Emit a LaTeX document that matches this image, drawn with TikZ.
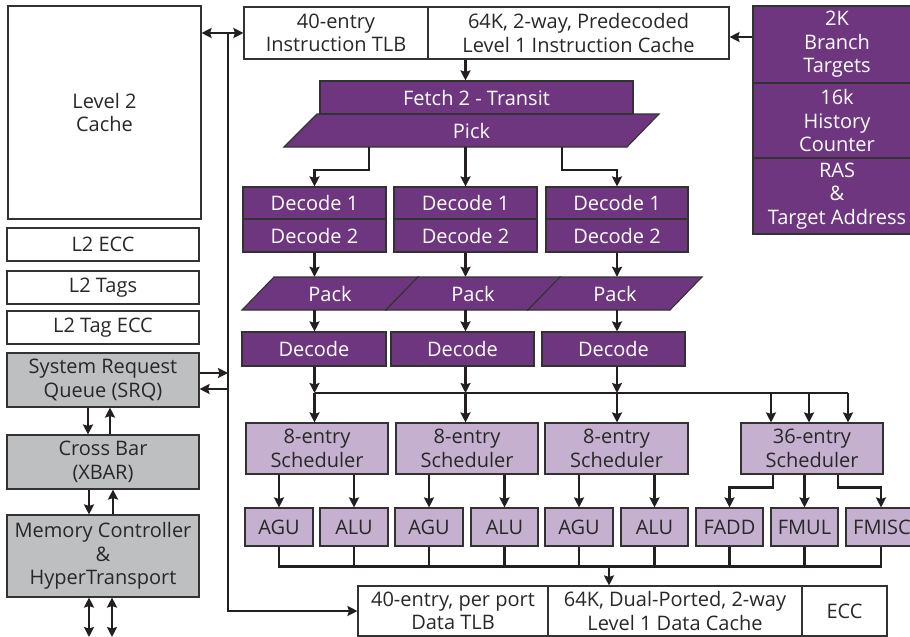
\documentclass[tikz,border=0pt]{standalone}
\usepackage{fontspec}
\setmainfont{Open Sans}
\usetikzlibrary{arrows.meta}
\definecolor{dpur}{RGB}{111,54,128}
\definecolor{lpur}{RGB}{197,176,208}
\definecolor{gbox}{RGB}{190,191,193}
\definecolor{lnc}{RGB}{35,31,32}
\definecolor{bord}{RGB}{50,50,50}
\definecolor{txt}{RGB}{40,40,40}
\begin{document}
\begin{tikzpicture}[x=1pt,y=-1pt,
  bx/.style={draw=bord,line width=1.1pt,inner sep=0pt,align=center,text=txt,
    font=\fontsize{20}{23.5}\selectfont},
  wbox/.style={bx,fill=white},
  gbx/.style={bx,fill=gbox},
  dbox/.style={bx,fill=dpur,text=white},
  lbox/.style={bx,fill=lpur},
  ttext/.style={inner sep=0pt,align=center,text=white,font=\fontsize{20}{23.5}\selectfont},
  ln/.style={draw=lnc,line width=2.2pt},
  arr/.style={ln,-{Stealth[length=10pt,width=10pt,inset=1.5pt]}},
  arrb/.style={ln,{Stealth[length=10pt,width=10pt,inset=1.5pt]}-{Stealth[length=10pt,width=10pt,inset=1.5pt]}}
]
\useasboundingbox (0,0) rectangle (910,637);
\fill[white] (0,0) rectangle (910,637);

% left column
\node[wbox,minimum width=193pt,minimum height=213pt] (l2) at (104.5,112.5) {Level 2\\Cache};
\node[wbox,minimum width=192pt,minimum height=33pt] (l2ecc) at (103,244.5) {L2 ECC};
\node[wbox,minimum width=192pt,minimum height=33pt] (l2tags) at (103,287.5) {L2 Tags};
\node[wbox,minimum width=192pt,minimum height=33pt] (l2tagecc) at (103,327.5) {L2 Tag ECC};
\node[gbx,minimum width=192pt,minimum height=54pt] (srq) at (103,380) {System Request\\Queue (SRQ)};
\node[gbx,minimum width=192pt,minimum height=54pt] (xbar) at (103,462) {Cross Bar\\(XBAR)};
\node[gbx,minimum width=192pt,minimum height=82pt] (mc) at (103,556) {Memory Controller\\\&\\HyperTransport};

% top
\node[wbox,minimum width=184pt,minimum height=52pt] (itlb) at (336,33) {40-entry\\Instruction TLB};
\node[wbox,minimum width=301pt,minimum height=52pt] (icache) at (578.5,33) {64K, 2-way, Predecoded\\Level 1 Instruction Cache};
\node[dbox,minimum width=168pt,minimum height=77pt] (bt) at (837,44.5) {2K\\Branch\\Targets};
\node[dbox,minimum width=168pt,minimum height=75pt] (hc) at (837,120.5) {16k\\History\\Counter};
\node[dbox,minimum width=168pt,minimum height=76pt] (ras) at (837,196) {RAS\\\&\\Target Address};

% fetch / pick
\filldraw[fill=dpur,draw=bord,line width=1.1pt] (284,147) -- (317,114) -- (659,114) -- (627,147) -- cycle;
\node[dbox,minimum width=313pt,minimum height=33pt] (fetch) at (476.5,97.5) {Fetch 2 - Transit};
\node[ttext,minimum width=300pt,minimum height=33pt] (pick) at (471.5,130.5) {Pick};

% decode 1/2
\node[dbox,minimum width=143pt,minimum height=32pt] (d1a) at (314.5,203) {Decode 1};
\node[dbox,minimum width=143pt,minimum height=33pt] (d2a) at (314.5,235.5) {Decode 2};
\node[dbox,minimum width=143pt,minimum height=32pt] (d1b) at (465.5,203) {Decode 1};
\node[dbox,minimum width=143pt,minimum height=33pt] (d2b) at (465.5,235.5) {Decode 2};
\node[dbox,minimum width=142pt,minimum height=32pt] (d1c) at (617,203) {Decode 1};
\node[dbox,minimum width=142pt,minimum height=33pt] (d2c) at (617,235.5) {Decode 2};

% packs
\filldraw[fill=dpur,draw=bord,line width=1.1pt] (242,310) -- (274,277) -- (418,277) -- (386,310) -- cycle;
\filldraw[fill=dpur,draw=bord,line width=1.1pt] (386,310) -- (418,277) -- (560,277) -- (528,310) -- cycle;
\filldraw[fill=dpur,draw=bord,line width=1.1pt] (528,310) -- (560,277) -- (702,277) -- (670,310) -- cycle;
\node[ttext,minimum width=100pt,minimum height=33pt] (pa) at (330,293.5) {Pack};
\node[ttext,minimum width=100pt,minimum height=33pt] (pb) at (473,293.5) {Pack};
\node[ttext,minimum width=100pt,minimum height=33pt] (pc) at (615,293.5) {Pack};

% decode
\node[dbox,minimum width=144pt,minimum height=34pt] (da) at (314,349) {Decode};
\node[dbox,minimum width=143pt,minimum height=34pt] (db) at (462.5,349) {Decode};
\node[dbox,minimum width=143pt,minimum height=34pt] (dc) at (613.5,349) {Decode};

% schedulers
\node[lbox,minimum width=142pt,minimum height=51pt] (s1) at (317,448.5) {8-entry\\Scheduler};
\node[lbox,minimum width=142pt,minimum height=51pt] (s2) at (467,448.5) {8-entry\\Scheduler};
\node[lbox,minimum width=143pt,minimum height=51pt] (s3) at (616.5,448.5) {8-entry\\Scheduler};
\node[lbox,minimum width=142pt,minimum height=51pt] (s4) at (812,448.5) {36-entry\\Scheduler};

% units
\node[lbox,minimum width=68pt,minimum height=38pt] (agu1) at (279,527) {AGU};
\node[lbox,minimum width=68pt,minimum height=38pt] (alu1) at (354,527) {ALU};
\node[lbox,minimum width=68pt,minimum height=38pt] (agu2) at (429,527) {AGU};
\node[lbox,minimum width=67pt,minimum height=38pt] (alu2) at (504.5,527) {ALU};
\node[lbox,minimum width=68pt,minimum height=38pt] (agu3) at (579,527) {AGU};
\node[lbox,minimum width=67pt,minimum height=38pt] (alu3) at (654.5,527) {ALU};
\node[lbox,minimum width=67pt,minimum height=38pt] (fadd) at (729.5,527) {FADD};
\node[lbox,minimum width=67pt,minimum height=38pt] (fmul) at (804.5,527) {FMUL};
\node[lbox,minimum width=72pt,minimum height=38pt] (fmisc) at (882,527) {FMISC};

% bottom
\node[wbox,minimum width=190pt,minimum height=50pt] (dtlb) at (453,611) {40-entry, per port\\Data TLB};
\node[wbox,minimum width=254pt,minimum height=50pt] (dcache) at (675,611) {64K, Dual-Ported, 2-way\\Level 1 Data Cache};
\node[wbox,minimum width=85pt,minimum height=50pt] (ecc) at (844.5,611) {ECC};

% coordinates
\coordinate (vt) at (228,33);
\coordinate (busl) at (314.5,393);
\coordinate (busr) at (848,393);
\coordinate (bbt) at (609,566);
\coordinate (io1) at (89,637);
\coordinate (io2) at (112,637);

% connectors: top
\draw[arrb] (l2.east |- itlb.west) -- (itlb.west);
\draw[arr] (vt) |- (dtlb.west);
\draw[arr] ([yshift=7.5pt]bt.west) -- ([yshift=7.5pt]bt.west -| icache.east);
\draw[arr] (d1b.north |- icache.south) -- (d1b.north |- fetch.north);

% pick
\draw[arr] ([xshift=-102.5pt]pick.south) -- ++(0,23) -| (d1a.north);
\draw[arr] (d1b.north |- pick.south) -- (d1b.north);
\draw[arr] ([xshift=90.5pt]pick.south) -- ++(0,23) -| (d1c.north);

% decode chain
\foreach \c/\p/\d in {a/pa/da,b/pb/db,c/pc/dc}{
  \draw[arr] (d2\c.south) -- (d2\c.south |- \p.north);
  \draw[arr] (d2\c.south |- \p.south) -- (d2\c.south |- \d.north);
  \draw[arr] (d2\c.south |- \d.south) -- (d2\c.south |- busl);
}
\draw[ln] (busl) -- (busr);
\draw[arr] (busl) -- (busl |- s1.north);
\draw[arr] (d2b.south |- busl) -- (d2b.south |- s2.north);
\draw[arr] (d2c.south |- busl) -- (d2c.south |- s3.north);
\draw[arr] ([xshift=-41pt]s4.north |- busl) -- ([xshift=-41pt]s4.north);
\draw[arr] ([xshift=-3pt]s4.north |- busl) -- ([xshift=-3pt]s4.north);
\draw[arr] (busr) -- (busr |- s4.north);

% schedulers to units
\draw[arr] (agu1.north |- s1.south) -- (agu1.north);
\draw[arr] (alu1.north |- s1.south) -- (alu1.north);
\draw[arr] (agu2.north |- s2.south) -- (agu2.north);
\draw[arr] (alu2.north |- s2.south) -- (alu2.north);
\draw[arr] (agu3.north |- s3.south) -- (agu3.north);
\draw[arr] (alu3.north |- s3.south) -- (alu3.north);
\draw[arr] ([xshift=-39pt]s4.south) -- ++(0,13) -| (fadd.north);
\draw[arr] (fmul.north |- s4.south) -- (fmul.north);
\draw[arr] ([xshift=26pt]s4.south) -- ++(0,13) -| ([xshift=-1pt]fmisc.north);

% result bus
\draw[ln] (agu1.south) -- ++(0,20) -| ([xshift=-1pt]fmisc.south);
\foreach \u in {alu1,agu2,alu2,agu3,alu3,fadd,fmul}{
  \draw[ln] (\u.south) -- ++(0,20);
}
\draw[arr] (bbt) -- (bbt |- dcache.north);

% left column connectors
\draw[arr] ([yshift=7pt]srq.east) -- ([yshift=7pt]srq.east -| vt);
\draw[arr] ([yshift=-9pt]srq.east -| vt) -- ([yshift=-9pt]srq.east);
\draw[arr] ([xshift=-15pt]srq.south) -- ([xshift=-15pt]srq.south |- xbar.north);
\draw[arr] ([xshift=7pt]xbar.north) -- ([xshift=7pt]xbar.north |- srq.south);
\draw[arr] ([xshift=-14pt]xbar.south) -- ([xshift=-14pt]xbar.south |- mc.north);
\draw[arr] ([xshift=10pt]mc.north) -- ([xshift=10pt]mc.north |- xbar.south);
\draw[arrb] (io1 |- mc.south) -- (io1);
\draw[arrb] (io2 |- mc.south) -- (io2);
\end{tikzpicture}
\end{document}
